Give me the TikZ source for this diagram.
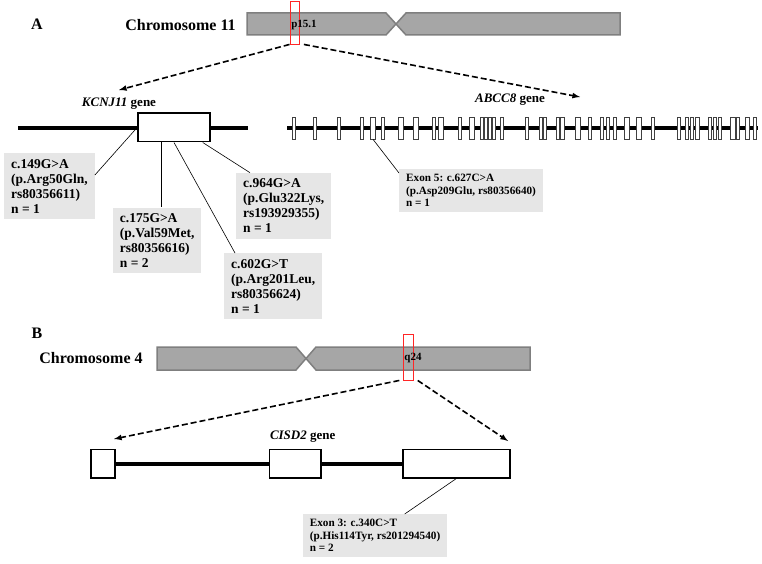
\documentclass[tikz,border=0pt]{standalone}
\usepackage{fontspec}
\setmainfont{Liberation Serif}

\definecolor{chromfill}{HTML}{A6A6A6}
\definecolor{chromline}{HTML}{7F7F7F}
\definecolor{boxfill}{HTML}{E6E6E6}

\tikzset{
  chrom/.style={fill=chromfill,draw=chromline,line width=1.5pt,line join=miter},
  band/.style={draw=red!85,line width=0.9pt,minimum width=9.5pt,inner sep=0pt},
  intron/.style={line width=4pt},
  exonbox/.style={draw,fill=white,line width=1.5pt,inner sep=0pt},
  exon/.style={draw=black!75,fill=white,line width=0.7pt,minimum height=22pt,inner sep=0pt},
  zoomarrow/.style={line width=1.6pt,dash pattern=on 6pt off 3pt,->,>=latex},
  leader/.style={line width=0.6pt},
  mutation/.style={fill=boxfill,align=left,anchor=north west,inner xsep=7pt,inner ysep=6pt,font=\fontsize{13.5}{15}\selectfont\bfseries},
  exonmut/.style={mutation,inner ysep=5pt,font=\fontsize{11.2}{12.5}\selectfont\bfseries},
  title/.style={font=\fontsize{16}{18}\selectfont\bfseries},
  bandname/.style={font=\fontsize{11}{12}\selectfont\bfseries},
  genename/.style={font=\fontsize{13}{15}\selectfont\bfseries}
}

\begin{document}
\begin{tikzpicture}[x=1pt,y=-1pt]
\useasboundingbox (0,0) rectangle (762,564);

% A: chromosome 11
\node[title] (lblA) at (37,24) {A};
\node[title] (chr11) at (180.5,25) {Chromosome 11};
\draw[chrom] (247,13) -- (386,13) -- (396,24) -- (386,35) -- (247,35) -- cycle;
\draw[chrom] (396,24) -- (406,13) -- (620,13) -- (620,35) -- (406,35) -- cycle;
\node[band,minimum height=43pt] (band11) at (294.7,22.5) {};
\node[bandname] (p151) at (304,25) {p15.1};

\coordinate (k11tip) at (119,90);
\coordinate (a8tip) at (580,97);
\draw[zoomarrow] (band11.south west) -- (k11tip);
\draw[zoomarrow] ([xshift=4pt]band11.south east) -- (a8tip);

% KCNJ11
\node[genename] (k11) at (119,104) {\textit{KCNJ11} gene};
\draw[intron] (18,128) -- (248,128);
\node[exonbox,minimum width=72pt,minimum height=28.7pt] (kbox) at (174,127.4) {};

\node[mutation] (c149) at (4,153) {c.149G>A\\(p.Arg50Gln,\\rs80356611)\\n = 1};
\node[mutation] (c175) at (112.7,207.3) {c.175G>A\\(p.Val59Met,\\rs80356616)\\n = 2};
\node[mutation] (c964) at (236,172.7) {c.964G>A\\(p.Glu322Lys,\\rs193929355)\\n = 1};
\node[mutation] (c602) at (224,253) {c.602G>T\\(p.Arg201Leu,\\rs80356624)\\n = 1};

\draw[leader] (kbox.west) -- ([yshift=-22pt]c149.north east);
\draw[leader] ([xshift=4pt]c175.north |- kbox.south) -- ([xshift=4pt]c175.north);
\draw[leader] (kbox.south) -- ([xshift=11pt]c602.north west);
\draw[leader] ([xshift=-8pt]kbox.south east) -- ([xshift=14pt]c964.north west);

% ABCC8
\node[genename] (a8) at (510,100) {\textit{ABCC8} gene};
\draw[intron] (287,128) -- (758,128);
\foreach \x/\w [count=\i] in {294/3.5,315/3.5,339/3.5,362/3.5,373/5,383/3.5,401/5,416/5,434/3.5,441/5,
  460/3.5,472/5,482/3,485.5/3,489.5/3,494/3,502/3.5,527/3.5,541/3.5,545/3.5,558/3.5,562/4,578/5,
  590/3.5,602/3.5,608/3.5,615/3.5,627/4.5,639/5,653/3.5,679/3.5,687/3.5,692/3.5,697/4,
  710/3.5,715/3.5,720/3.5,733/5,738/3.5,747/4,755/3.5}
  \node[exon,minimum width=\w pt] (ex\i) at (\x,128) {};

\node[exonmut] (x627) at (399,169) {Exon 5: c.627C>A\\(p.Asp209Glu, rs80356640)\\n = 1};
\draw[leader] (ex5.south) -- ([yshift=-4pt]x627.north west);

% B: chromosome 4
\node[title] (lblB) at (37,333) {B};
\node[title] (chr4) at (91,358.5) {Chromosome 4};
\draw[chrom] (157,347) -- (296,347) -- (306,358.5) -- (296,370) -- (157,370) -- cycle;
\draw[chrom] (306,358.5) -- (316,347) -- (530,347) -- (530,370) -- (316,370) -- cycle;
\node[band,minimum height=46pt] (band4) at (408.5,357) {};
\node[bandname] (q24) at (413,358.5) {q24};

\coordinate (cisdl) at (114,439);
\coordinate (cisdr) at (508,441);
\draw[zoomarrow] ([xshift=-4pt]band4.south west) -- (cisdl);
\draw[zoomarrow] ([xshift=4pt]band4.south east) -- (cisdr);

% CISD2
\node[genename] (cisd) at (302.7,437) {\textit{CISD2} gene};
\draw[intron] (115,464) -- (403,464);
\node[exonbox,minimum width=24pt,minimum height=28.5pt] (cex1) at (103,463.5) {};
\node[exonbox,minimum width=51.7pt,minimum height=28.5pt] (cex2) at (295.2,463.5) {};
\node[exonbox,minimum width=107.3pt,minimum height=28.5pt] (cex3) at (456.4,463.5) {};

\node[exonmut] (x340) at (302.7,514) {Exon 3: c.340C>T\\(p.His114Tyr, rs201294540)\\n = 2};
\draw[leader] (cex3.south) -- ([xshift=102pt]x340.north west);
\end{tikzpicture}
\end{document}
